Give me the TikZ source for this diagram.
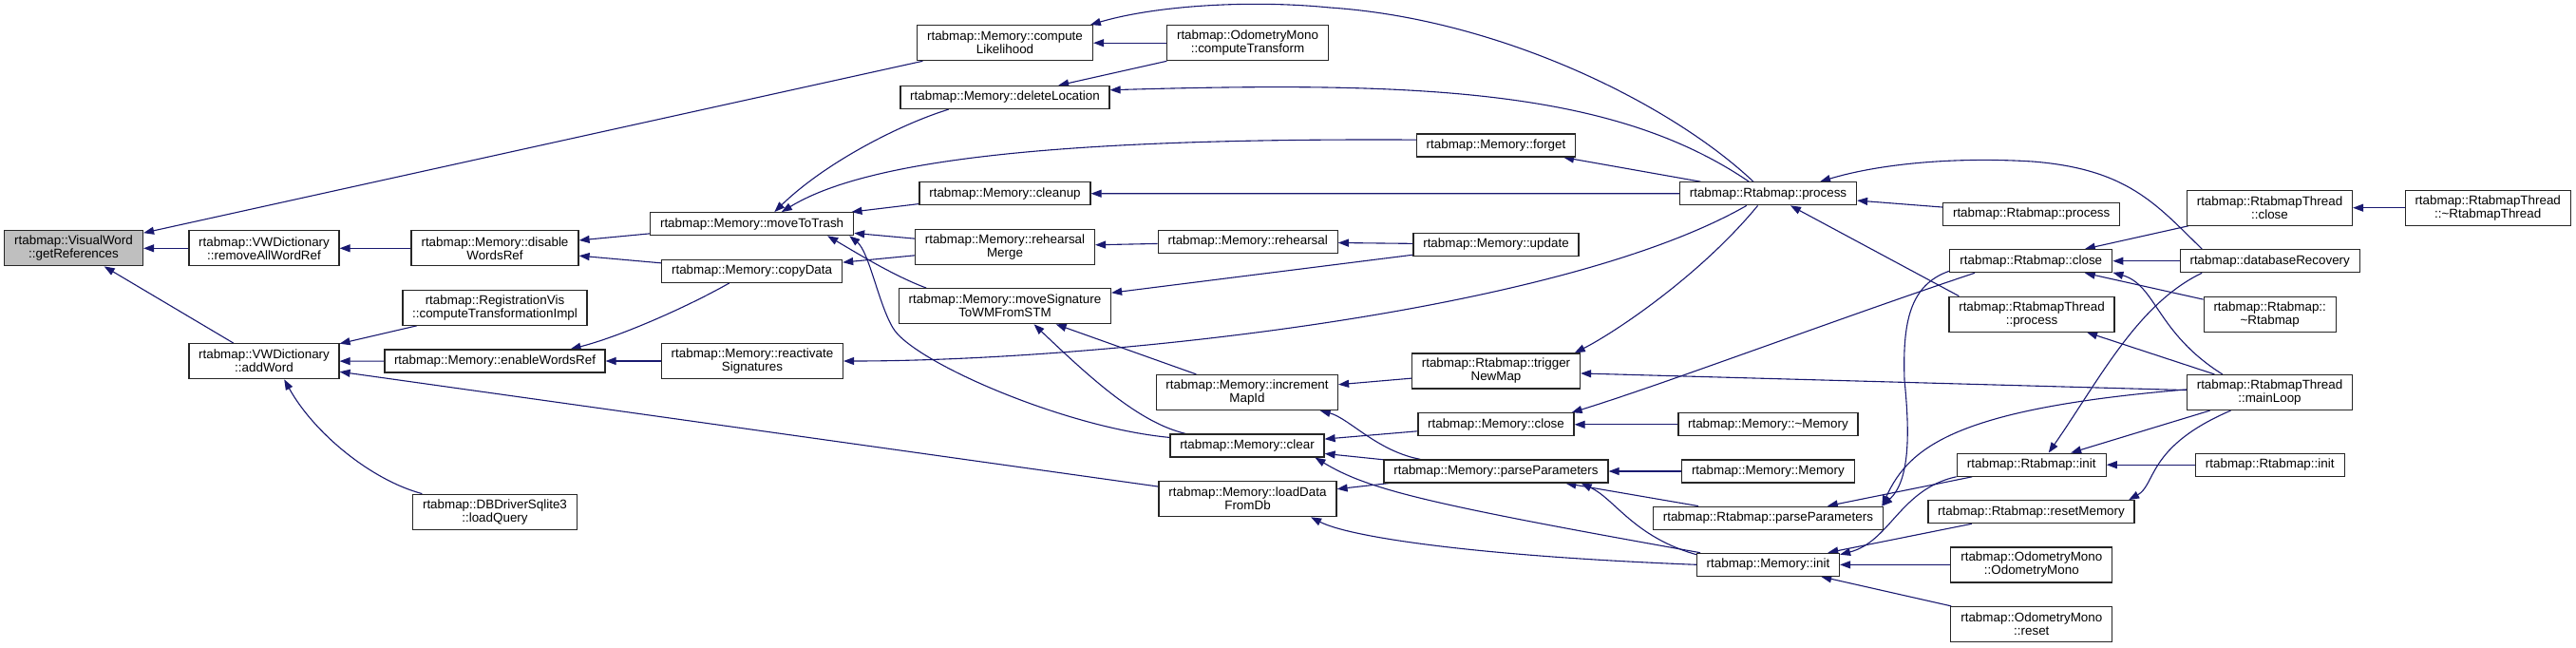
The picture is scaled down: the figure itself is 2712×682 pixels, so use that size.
\documentclass[tikz,border=0pt]{standalone}
\usepackage{fontspec}
\setmainfont{Liberation Sans}
\usetikzlibrary{arrows.meta}
\definecolor{edgeblue}{HTML}{191970}
\definecolor{rootfill}{HTML}{BFBFBF}
\pgfdeclarelayer{edgelayer}
\pgfsetlayers{edgelayer,main}
\begin{document}
\begin{tikzpicture}[x=1pt,y=-1pt,
  fn/.style={draw=black!85, line width=1.2pt, fill=white, rectangle, inner sep=0pt,
             minimum height=24pt, align=center, font=\fontsize{13.4}{14}\selectfont},
  tall/.style={minimum height=37pt},
  calledge/.style={draw=edgeblue, line width=1.1pt, arrows={Triangle[length=11pt,width=8pt]-}}]
\useasboundingbox (0,0) rectangle (2712,682);

% column 0-2
\node[fn,tall,fill=rootfill,minimum width=146pt] (getref) at (77.5,261.3) {rtabmap::VisualWord\\::getReferences};
\node[fn,tall,minimum width=158pt] (removeall) at (278,261.3) {rtabmap::VWDictionary\\::removeAllWordRef};
\node[fn,tall,minimum width=158pt] (addword) at (278,380.2) {rtabmap::VWDictionary\\::addWord};
\node[fn,tall,minimum width=176pt] (disable) at (521,261.3) {rtabmap::Memory::disable\\WordsRef};
\node[fn,tall,minimum width=194pt] (regvis) at (521,323.7) {rtabmap::RegistrationVis\\::computeTransformationImpl};
\node[fn,minimum width=232pt] (enable) at (521,380) {rtabmap::Memory::enableWordsRef};
\node[fn,tall,minimum width=173pt] (loadquery) at (521,538.7) {rtabmap::DBDriverSqlite3\\::loadQuery};
% column 3
\node[fn,minimum width=214pt] (movetotrash) at (791.6,235.7) {rtabmap::Memory::moveToTrash};
\node[fn,minimum width=190pt] (copydata) at (791.6,285.3) {rtabmap::Memory::copyData};
\node[fn,tall,minimum width=191pt] (reactivate) at (792,380) {rtabmap::Memory::reactivate\\Signatures};
% column 4
\node[fn,tall,minimum width=185pt] (complik) at (1058,45.2) {rtabmap::Memory::compute\\Likelihood};
\node[fn,minimum width=220pt] (deleteloc) at (1058,102.5) {rtabmap::Memory::deleteLocation};
\node[fn,minimum width=180pt] (cleanup) at (1058,203.7) {rtabmap::Memory::cleanup};
\node[fn,tall,minimum width=189pt] (rehmerge) at (1058,259.7) {rtabmap::Memory::rehearsal\\Merge};
\node[fn,tall,minimum width=223pt] (movesig) at (1058,322.2) {rtabmap::Memory::moveSignature\\ToWMFromSTM};
% column 5
\node[fn,tall,minimum width=170pt] (comptrans) at (1313.5,45.2) {rtabmap::OdometryMono\\::computeTransform};
\node[fn,minimum width=189pt] (rehearsal) at (1313.7,254.5) {rtabmap::Memory::rehearsal};
\node[fn,tall,minimum width=191pt] (incmap) at (1313,413) {rtabmap::Memory::increment\\MapId};
\node[fn,minimum width=162pt] (clear) at (1313,469) {rtabmap::Memory::clear};
\node[fn,tall,minimum width=187pt] (loaddata) at (1313.5,525.2) {rtabmap::Memory::loadData\\FromDb};
% column 6
\node[fn,minimum width=167pt] (forget) at (1575,153) {rtabmap::Memory::forget};
\node[fn,minimum width=174pt] (update) at (1575,257.3) {rtabmap::Memory::update};
\node[fn,tall,minimum width=177pt] (trigger) at (1575,390.5) {rtabmap::Rtabmap::trigger\\NewMap};
\node[fn,minimum width=164pt] (memclose) at (1575,446.8) {rtabmap::Memory::close};
\node[fn,minimum width=236pt] (memparse) at (1575,496) {rtabmap::Memory::parseParameters};
% column 7
\node[fn,minimum width=186pt] (process) at (1861.5,203.8) {rtabmap::Rtabmap::process};
\node[fn,minimum width=189pt] (memdtor) at (1861.4,446.8) {rtabmap::Memory::\textasciitilde Memory};
\node[fn,minimum width=182pt] (memctor) at (1861.4,496) {rtabmap::Memory::Memory};
\node[fn,minimum width=242pt] (rtparse) at (1861.4,545.2) {rtabmap::Rtabmap::parseParameters};
\node[fn,minimum width=150pt] (meminit) at (1861.5,594.3) {rtabmap::Memory::init};
% column 8
\node[fn,minimum width=186pt] (process2) at (2138.7,225.3) {rtabmap::Rtabmap::process};
\node[fn,minimum width=171pt] (rtclose) at (2138.3,274.7) {rtabmap::Rtabmap::close};
\node[fn,tall,minimum width=174pt] (thprocess) at (2139,330.7) {rtabmap::RtabmapThread\\::process};
\node[fn,minimum width=157pt] (rtinit) at (2138.7,489.2) {rtabmap::Rtabmap::init};
\node[fn,minimum width=217pt] (resetmem) at (2138.5,538.7) {rtabmap::Rtabmap::resetMemory};
\node[fn,tall,minimum width=170pt] (odoctor) at (2138.8,594.5) {rtabmap::OdometryMono\\::OdometryMono};
\node[fn,tall,minimum width=170pt] (odoreset) at (2138.8,657) {rtabmap::OdometryMono\\::reset};
% column 9-10
\node[fn,tall,minimum width=174pt] (thclose) at (2389.5,218.7) {rtabmap::RtabmapThread\\::close};
\node[fn,minimum width=189pt] (dbrecov) at (2389.7,274.7) {rtabmap::databaseRecovery};
\node[fn,tall,minimum width=139pt] (rtdtor) at (2389.7,330.7) {rtabmap::Rtabmap::\\\textasciitilde Rtabmap};
\node[fn,tall,minimum width=174pt] (mainloop) at (2389.5,413) {rtabmap::RtabmapThread\\::mainLoop};
\node[fn,minimum width=157pt] (rtinit2) at (2389.7,489.2) {rtabmap::Rtabmap::init};
\node[fn,tall,minimum width=174pt] (thdtor) at (2619.2,218.7) {rtabmap::RtabmapThread\\::\textasciitilde RtabmapThread};

\begin{pgfonlayer}{edgelayer}
\fill[white] (0,0) rectangle (2712,682);
% edges (arrow at callee)
\draw[calledge] (getref) -- (complik);
\draw[calledge] (getref) -- (removeall);
\draw[calledge] (getref) -- (addword);
\draw[calledge] (removeall) -- (disable);
\draw[calledge] (disable) -- (movetotrash);
\draw[calledge] (disable) -- (copydata);
\draw[calledge] (addword) -- (regvis);
\draw[calledge] (addword) -- (enable);
\draw[calledge] (addword) -- (loaddata);
\draw[calledge] (addword.-42) .. controls (330,455) and (390,505) .. (loadquery.166);
\draw[calledge] (enable) -- (reactivate);
\draw[calledge] (enable.9) .. controls (650,355) and (720,325) .. (copydata.-152);
\draw[calledge] (movetotrash.28) .. controls (870,170) and (950,130) .. (deleteloc.-168);
\draw[calledge] (movetotrash.22) .. controls (910,170) and (1100,145) .. (forget.176);
\draw[calledge] (movetotrash) -- (cleanup);
\draw[calledge] (movetotrash) -- (rehmerge);
\draw[calledge] (movetotrash.-9.5) .. controls (900,265) and (940,290) .. (movesig.167);
\draw[calledge] (movetotrash.-7.6) .. controls (915,265) and (925,320) .. (940,345) .. controls (960,380) and (1120,450) .. (clear.174);
\draw[calledge] (copydata) -- (rehmerge);
\draw[calledge] (complik) -- (comptrans);
\draw[calledge] (complik.12.7) .. controls (1220,5) and (1320,0) .. (1400,8) .. controls (1580,20) and (1760,110) .. (process.141);
\draw[calledge] (deleteloc) -- (comptrans);
\draw[calledge] (deleteloc.4.8) .. controls (1500,85) and (1700,95) .. (process.148);
\draw[calledge] (forget) -- (process);
\draw[calledge] (cleanup) -- (process);
\draw[calledge] (rehmerge) -- (rehearsal);
\draw[calledge] (rehearsal) -- (update);
\draw[calledge] (movesig) -- (update);
\draw[calledge] (reactivate.east) .. controls (1150,380) and (1640,330) .. (process.-151);
\draw[calledge] (movesig) -- (incmap);
\draw[calledge] (movesig.-32.5) .. controls (1150,400) and (1200,445) .. (clear.169.5);
\draw[calledge] (incmap) -- (trigger);
\draw[calledge] (incmap.-14.8) .. controls (1420,440) and (1450,475) .. (memparse.171);
\draw[calledge] (clear) -- (memclose);
\draw[calledge] (clear) -- (memparse);
\draw[calledge] (clear.-10) .. controls (1440,515) and (1500,530) .. (meminit.170);
\draw[calledge] (loaddata) -- (memparse);
\draw[calledge] (loaddata.-16.7) .. controls (1420,565) and (1550,585) .. (meminit.west);
\draw[calledge] (trigger.13) .. controls (1700,350) and (1790,290) .. (process.-131);
\draw[calledge] (trigger) -- (mainloop);
\draw[calledge] (memclose.9) .. controls (1750,405) and (1950,330) .. (rtclose.-168);
\draw[calledge] (memclose) -- (memdtor);
\draw[calledge] (memparse) -- (memctor);
\draw[calledge] (memparse) -- (rtparse);
\draw[calledge] (memparse.-8.5) .. controls (1700,525) and (1720,565) .. (meminit.172);
\draw[calledge] (rtparse.6.5) .. controls (2012,505) and (2010,450) .. (2005,400) .. controls (2003,340) and (2010,300) .. (rtclose.-173);
\draw[calledge] (rtparse.6) .. controls (2010,470) and (2060,430) .. (mainloop.178);
\draw[calledge] (rtparse) -- (rtinit);
\draw[calledge] (meminit.8) .. controls (1990,570) and (2000,515) .. (rtinit.-171);
\draw[calledge] (meminit) -- (resetmem);
\draw[calledge] (meminit) -- (odoctor);
\draw[calledge] (meminit) -- (odoreset);
\draw[calledge] (process) -- (process2);
\draw[calledge] (process) -- (thprocess.166);
\draw[calledge] (process.13) .. controls (1980,172) and (2060,165) .. (2140,170) .. controls (2240,178) and (2270,215) .. (dbrecov.170);
\draw[calledge] (rtclose) -- (thclose);
\draw[calledge] (rtclose) -- (dbrecov);
\draw[calledge] (rtclose) -- (rtdtor);
\draw[calledge] (rtclose.-8) .. controls (2270,300) and (2270,350) .. (mainloop.159.5);
\draw[calledge] (thclose) -- (thdtor);
\draw[calledge] (rtinit.35) .. controls (2210,400) and (2250,320) .. (dbrecov.-170);
\draw[calledge] (rtinit) -- (mainloop);
\draw[calledge] (rtinit) -- (rtinit2);
\draw[calledge] (resetmem.7.6) .. controls (2270,510) and (2260,470) .. (mainloop.-155);
\draw[calledge] (thprocess) -- (mainloop);
\end{pgfonlayer}
\end{tikzpicture}
\end{document}
